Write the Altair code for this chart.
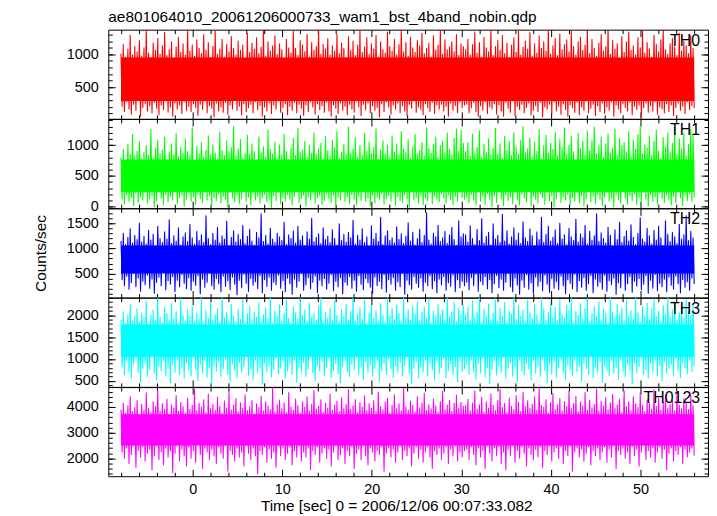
import altair as alt
import pandas as pd

FONT = "Liberation Sans"
TITLE = "ae801064010_20061206000733_wam1_bst_4band_nobin.qdp"
XTITLE = "Time [sec] 0 = 2006/12/06 00:07:33.082"
YTITLE = "Counts/sec"

T_START, T_END = -8.0, 56.0
X_DOMAIN = [-9.42, 57.54]
X_MAJOR = [0, 10, 20, 30, 40, 50]
X_MINOR = [-8, -6, -4, -2, 2, 4, 6, 8, 12, 14, 16, 18, 22, 24, 26, 28,
           32, 34, 36, 38, 42, 44, 46, 48, 52, 54, 56]

names = ["TH0", "TH1", "TH2", "TH3", "TH0123"]
colors = ["#ff0000", "#00ff00", "#0000ff", "#00ffff", "#ff00ff"]
y_domains = [[20, 1375], [-23, 1422], [24, 1798], [363, 2402], [1302, 4775]]
y_major = [[500, 1000], [0, 500, 1000], [500, 1000, 1500],
           [500, 1000, 1500, 2000], [2000, 3000, 4000]]
y_minor = [list(range(100, 1400, 100)), list(range(0, 1500, 100)),
           list(range(100, 1800, 100)), list(range(400, 2500, 100)),
           list(range(1400, 4800, 200))]

# solidly filled core of each light curve (counts/sec)
core_lo = [290, 240, 500, 1050, 2500]
core_hi = [950, 760, 1060, 1790, 3720]

th0 = [
    1010, 210, 1150, 130, 960, 280, 1080, 170, 1290, 90, 990, 240, 1120, 150, 1040, 300, 1210, 60, 970, 190,
    1100, 250, 1380, 140, 1020, 220, 950, 110, 1170, 270, 1060, 180, 1240, 80, 1000, 230, 1130, 160, 1330, 290,
    980, 120, 1070, 200, 1190, 60, 940, 260, 1110, 170, 1260, 230, 1030, 100, 1160, 280, 990, 150, 1400, 210,
    1050, 130, 1140, 250, 970, 190, 1220, 70, 1090, 240, 1010, 160, 1300, 290, 1060, 110, 1180, 220, 950, 180,
    1120, 50, 1360, 260, 1000, 140, 1080, 200, 1230, 120, 960, 270, 1150, 90, 1040, 230, 1270, 170, 1090, 300,
    990, 150, 1200, 210, 1060, 80, 1140, 250, 930, 130, 1320, 190, 1030, 240, 1170, 110, 1080, 280, 1250, 160,
    1010, 220, 1110, 60, 1390, 200, 970, 140, 1190, 260, 1050, 100, 1130, 230, 1280, 170, 1000, 290, 1160, 120,
    1070, 190, 940, 250, 1230, 80, 1100, 210, 1020, 150, 1350, 270, 1090, 110, 980, 240, 1210, 180, 1140, 70,
    1040, 230, 1300, 130, 960, 280, 1180, 200, 1060, 90, 1120, 250, 1410, 160, 1000, 220, 1150, 120, 1080, 270,
    1240, 140, 990, 60, 1130, 230, 1050, 180, 1310, 100, 1010, 260, 1170, 150, 1090, 210, 950, 80, 1270, 240,
    1060, 170, 1200, 120, 980, 290, 1140, 200, 1370, 70, 1030, 240, 1110, 160, 1250, 260, 1000, 110, 1160, 220,
    1080, 150, 1290, 190, 960, 50, 1190, 250, 1070, 130, 1020, 280, 1340, 200, 1120, 90, 1050, 230, 1230, 170,
    990, 260, 1150, 110, 1400, 220, 1040, 140, 1180, 70, 970, 240, 1260, 180, 1100, 290, 1030, 120, 1210, 200,
    1130, 160, 1320, 80, 1010, 250, 1090, 190, 1170, 130, 960, 270, 1280, 100, 1060, 230, 1140, 170, 1380, 240,
    1000, 140, 1220, 210, 1070, 60, 1110, 260, 1190, 150, 1040, 220, 1300, 110, 980, 280, 1160, 190, 1120, 230,
    1070, 240, 1230, 110, 990, 190, 1150, 270, 1340, 130, 1020, 60, 1180, 220, 960, 150, 1260, 280, 1100, 100,
    1040, 200, 1390, 170, 980, 250, 1120, 90, 1210, 230, 1060, 140, 1290, 60, 1010, 270, 1170, 180, 950, 120,
    1140, 290, 1250, 70, 1030, 210, 1360, 160, 990, 240, 1110, 110, 1200, 190, 1080, 260, 1330, 80, 970, 150,
    1160, 220, 1020, 130, 1280, 270, 1090, 50, 1190, 200, 1050, 170, 1400, 240, 1000, 100, 1130, 280, 1240, 140,
    980, 210, 1310, 90, 1070, 250, 1150, 160, 1220, 60, 1040, 230, 1360, 190, 1120, 120, 990, 270, 1190, 80,
    1260, 200, 1060, 150, 1140, 290, 1380, 110, 1010, 180, 1230, 240, 1090, 70, 970, 220, 1170, 130, 1300, 260,
    1050, 100, 1120, 200, 1410, 150, 1000, 280, 1210, 60, 1080, 230, 1160, 170, 940, 110, 1270, 250, 1030, 190,
    1190, 140, 1340, 270, 1060, 80, 1130, 210, 990, 160, 1250, 230, 1100, 50, 1370, 190, 1020, 260, 1180, 120,
    1080, 220, 960, 140, 1290, 280, 1150, 90, 1040, 200, 1220, 170, 1390, 110, 1070, 250, 1000, 130, 1160, 230,
    1240, 70, 1110, 190, 980, 260, 1320, 150, 1050, 210, 1200, 100, 1130, 280, 1010, 160, 1280, 220, 1090, 180,
]
th1 = [
    800, 120, 930, 40, 760, 190, 1010, 90, 850, 150, 1170, 20, 820, 210, 900, 70, 1060, 160, 780, 110,
    880, 230, 990, 60, 830, 130, 1250, 180, 790, 0, 950, 100, 1080, 240, 860, 140, 920, 30, 1130, 200,
    770, 80, 890, 170, 1020, 110, 840, 250, 1190, 50, 810, 150, 960, 190, 870, 10, 1100, 120, 900, 220,
    830, 90, 1280, 160, 750, 40, 980, 200, 860, 130, 1040, 70, 800, 240, 920, 110, 1150, 180, 840, 20,
    1000, 150, 870, 100, 780, 210, 1210, 60, 910, 170, 830, 120, 1070, 0, 890, 230, 960, 140, 1300, 80,
    820, 190, 940, 50, 1090, 130, 790, 250, 870, 90, 1160, 160, 850, 30, 1020, 210, 900, 110, 760, 170,
    1130, 60, 880, 140, 970, 200, 810, 80, 1240, 120, 930, -10, 860, 180, 1050, 100, 790, 230, 1000, 50,
    840, 150, 1180, 90, 900, 200, 770, 120, 950, 30, 1110, 170, 830, 240, 1270, 70, 880, 130, 920, 190,
    1060, 10, 800, 160, 990, 110, 870, 220, 1200, 60, 850, 140, 940, 180, 1030, 40, 780, 100, 1140, 210,
    910, 130, 820, 70, 1080, 190, 960, 20, 1230, 150, 790, 110, 890, 240, 1010, 90, 850, 160, 1290, 50,
    870, 200, 940, 120, 1120, 30, 800, 170, 990, 100, 830, 250, 1190, 80, 900, 140, 1050, 10, 860, 190,
    960, 60, 1260, 150, 780, 120, 920, 210, 1070, 40, 850, 130, 1000, 180, 810, 90, 1150, 230, 890, 20,
    1020, 160, 840, 100, 1220, 70, 930, 200, 880, 130, 1090, 0, 790, 240, 970, 110, 1170, 150, 860, 60,
    910, 190, 1040, 30, 820, 140, 1280, 100, 950, 220, 870, 50, 1010, 170, 1130, 120, 800, 80, 990, 210,
    1060, 140, 880, 60, 1200, 190, 930, 110, 840, 30, 1110, 170, 1260, 90, 900, 230, 1240, 150, 1030, 120,
    900, 150, 1040, 60, 820, 200, 1180, 110, 870, 30, 960, 230, 1230, 90, 800, 170, 1010, 40, 880, 210,
    1100, 120, 840, 0, 950, 180, 1270, 70, 860, 240, 1020, 130, 790, 20, 1140, 190, 920, 100, 1060, 160,
    830, 50, 1200, 220, 970, 110, 850, 30, 1080, 200, 1300, 140, 880, 80, 940, 250, 1120, 10, 810, 170,
    1050, 120, 900, 60, 1250, 210, 780, 150, 990, 40, 1160, 230, 870, 100, 1030, 180, 930, 0, 1210, 130,
    820, 240, 1090, 70, 960, 160, 1280, 110, 850, 200, 1000, 30, 1140, 150, 890, 90, 770, 220, 1190, 60,
    940, 180, 1060, 10, 830, 130, 1230, 240, 910, 80, 1070, 170, 1290, 50, 860, 200, 980, 120, 1130, 20,
    800, 160, 1020, 230, 1180, 90, 870, 140, 950, 0, 1260, 190, 840, 110, 1110, 60, 990, 250, 1040, 140,
    890, 40, 1220, 180, 810, 100, 1080, 210, 930, 30, 1170, 150, 1300, 70, 860, 230, 1000, 120, 950, 10,
    1150, 200, 830, 90, 1060, 160, 1240, 40, 900, 220, 790, 130, 1120, 70, 970, 190, 1200, 110, 880, 30,
    1030, 170, 1280, 60, 850, 240, 1100, 140, 940, 20, 1190, 180, 820, 100, 1010, 210, 1250, 90, 1170, 150,
]
th2 = [
    1150, 380, 1300, 260, 1080, 450, 1220, 190, 1390, 320, 1110, 500, 1260, 240, 1180, 410, 1500, 150, 1130, 350,
    1240, 280, 1090, 470, 1360, 210, 1170, 390, 1280, 110, 1050, 330, 1440, 430, 1200, 260, 1120, 520, 1330, 180,
    1190, 360, 1570, 290, 1100, 440, 1250, 140, 1150, 370, 1410, 240, 1070, 480, 1230, 310, 1310, 200, 1140, 420,
    1480, 170, 1210, 350, 1090, 270, 1340, 460, 1160, 100, 1270, 390, 1120, 230, 1650, 330, 1200, 510, 1080, 260,
    1300, 190, 1170, 400, 1420, 300, 1110, 140, 1250, 450, 1190, 250, 1540, 360, 1060, 180, 1220, 430, 1350, 290,
    1130, 80, 1280, 370, 1180, 220, 1460, 490, 1100, 310, 1240, 150, 1380, 400, 1150, 270, 1070, 340, 1320, 200,
    1210, 460, 1690, 120, 1140, 380, 1260, 250, 1090, 430, 1400, 170, 1190, 330, 1120, 280, 1300, 470, 1230, 210,
    1160, 360, 1520, 140, 1080, 410, 1270, 300, 1200, 90, 1350, 390, 1110, 230, 1440, 350, 1170, 500, 1250, 170,
    1060, 280, 1330, 420, 1190, 200, 1600, 330, 1140, 450, 1220, 120, 1290, 370, 1100, 260, 1410, 400, 1180, 190,
    1240, 310, 1120, 480, 1370, 160, 1200, 350, 1070, 240, 1490, 420, 1160, 100, 1280, 330, 1130, 270, 1320, 440,
    1210, 210, 1560, 370, 1090, 150, 1260, 460, 1170, 290, 1390, 180, 1120, 400, 1230, 320, 1050, 230, 1450, 110,
    1190, 430, 1300, 260, 1140, 350, 1620, 200, 1080, 480, 1250, 130, 1350, 380, 1160, 290, 1210, 420, 1110, 170,
    1430, 340, 1180, 240, 1290, 500, 1100, 90, 1240, 370, 1510, 280, 1150, 190, 1320, 440, 1070, 310, 1200, 230,
    1380, 410, 1120, 150, 1260, 330, 1710, 260, 1170, 460, 1090, 200, 1300, 360, 1230, 120, 1460, 390, 1140, 280,
    1210, 440, 1340, 170, 1100, 320, 1270, 250, 1420, 470, 1180, 140, 1060, 380, 1550, 220, 1230, 350, 1290, 260,
    1270, 330, 1130, 180, 1450, 420, 1200, 260, 1080, 490, 1380, 150, 1160, 350, 1590, 280, 1110, 440, 1240, 200,
    1320, 380, 1070, 120, 1490, 300, 1190, 460, 1260, 220, 1120, 390, 1680, 170, 1150, 330, 1350, 500, 1090, 240,
    1230, 140, 1410, 410, 1170, 270, 1300, 90, 1100, 370, 1530, 230, 1210, 480, 1140, 190, 1390, 320, 1250, 110,
    1060, 430, 1330, 250, 1180, 350, 1620, 160, 1120, 470, 1280, 290, 1440, 130, 1150, 400, 1220, 210, 1370, 340,
    1100, 180, 1500, 450, 1190, 260, 1270, 100, 1080, 380, 1400, 310, 1230, 200, 1160, 490, 1580, 140, 1130, 360,
    1290, 230, 1210, 420, 1460, 170, 1090, 300, 1340, 460, 1170, 120, 1250, 390, 1690, 250, 1140, 330, 1310, 190,
    1200, 470, 1110, 150, 1420, 360, 1260, 280, 1050, 410, 1370, 90, 1180, 320, 1520, 220, 1120, 500, 1240, 170,
    1350, 300, 1150, 440, 1470, 130, 1220, 350, 1080, 250, 1300, 400, 1610, 180, 1190, 290, 1130, 460, 1400, 110,
    1250, 370, 1090, 210, 1360, 480, 1170, 160, 1440, 310, 1210, 240, 1060, 390, 1550, 140, 1280, 430, 1140, 270,
    1320, 190, 1230, 450, 1100, 300, 1480, 120, 1190, 380, 1270, 230, 1650, 340, 1160, 170, 1340, 410, 1210, 290,
]
th3 = [
    1900, 820, 2080, 640, 1820, 950, 2010, 720, 2240, 560, 1870, 880, 1980, 1000, 2150, 690, 1840, 470, 2060, 790,
    1950, 910, 2330, 600, 1790, 760, 2000, 1050, 2120, 680, 1890, 520, 2450, 840, 1960, 730, 1830, 960, 2190, 610,
    2040, 780, 1880, 450, 2270, 870, 1930, 700, 2090, 990, 1810, 640, 2380, 810, 1990, 560, 1860, 920, 2130, 740,
    1970, 620, 2220, 1030, 1850, 760, 2050, 510, 1920, 880, 2410, 690, 1800, 970, 2110, 590, 1940, 800, 2300, 430,
    1890, 850, 2020, 720, 2160, 940, 1830, 600, 2460, 780, 1950, 1010, 2070, 660, 1870, 480, 2250, 890, 1990, 740,
    1840, 570, 2140, 920, 1910, 700, 2360, 820, 1780, 1060, 2030, 630, 2200, 760, 1900, 540, 2080, 980, 1960, 680,
    2290, 800, 1860, 420, 2010, 910, 2170, 710, 1930, 850, 2420, 590, 1820, 760, 2100, 1020, 1980, 650, 2240, 790,
    1870, 940, 2050, 560, 2350, 730, 1940, 880, 1810, 640, 2190, 990, 2060, 470, 1920, 810, 2440, 700, 1990, 920,
    2120, 600, 1850, 770, 2280, 1040, 1960, 690, 2040, 500, 1890, 860, 2210, 730, 2400, 950, 1830, 620, 2070, 810,
    1950, 1000, 2160, 580, 1880, 740, 2320, 900, 2000, 660, 1840, 450, 2130, 830, 1970, 970, 2260, 710, 1900, 600,
    2090, 880, 2430, 760, 1860, 1030, 2020, 640, 2180, 820, 1920, 540, 2340, 930, 1800, 700, 2060, 860, 2220, 610,
    1940, 790, 2110, 960, 1870, 490, 2270, 730, 2000, 890, 1830, 650, 2390, 1010, 1980, 770, 2150, 580, 1910, 840,
    2240, 700, 2050, 920, 1850, 610, 2460, 850, 1960, 1050, 2130, 680, 1890, 430, 2200, 790, 2030, 940, 2310, 570,
    1880, 820, 2070, 710, 2190, 990, 1940, 620, 2370, 880, 1820, 750, 2100, 520, 1990, 930, 2250, 670, 2010, 800,
    2140, 1020, 1900, 560, 2420, 740, 1960, 900, 2080, 640, 2300, 830, 1850, 480, 2170, 960, 2020, 720, 2230, 780,
    2010, 870, 2190, 650, 1880, 980, 2330, 720, 1950, 530, 2080, 900, 2420, 680, 1840, 1010, 2140, 590, 1990, 810,
    2260, 440, 1900, 760, 2050, 950, 2380, 630, 1860, 850, 2170, 700, 1970, 1040, 2300, 560, 1820, 790, 2100, 920,
    2030, 610, 2450, 830, 1910, 480, 2210, 990, 1980, 720, 2120, 640, 1850, 900, 2350, 770, 2060, 520, 1930, 960,
    2240, 680, 2010, 850, 1800, 600, 2400, 1020, 2150, 740, 1890, 450, 2070, 880, 2290, 660, 1960, 930, 2180, 570,
    1870, 800, 2360, 1000, 2020, 690, 1940, 540, 2230, 870, 2110, 760, 2440, 620, 1830, 980, 2090, 710, 2000, 840,
    2270, 500, 1920, 910, 2160, 780, 2390, 650, 1860, 1050, 2040, 580, 2200, 820, 1980, 700, 2320, 940, 1900, 470,
    2130, 860, 2050, 730, 1810, 620, 2460, 960, 2080, 680, 1950, 810, 2250, 540, 2020, 1000, 2170, 720, 1880, 600,
    2340, 880, 1990, 750, 2110, 430, 1930, 920, 2410, 690, 2060, 830, 1840, 1030, 2200, 640, 2000, 760, 2280, 560,
    1910, 900, 2150, 700, 2370, 980, 1970, 610, 2090, 850, 1850, 510, 2230, 940, 2030, 680, 2430, 790, 1960, 880,
    2120, 620, 2310, 1010, 1890, 740, 2060, 570, 2190, 910, 1940, 800, 2350, 660, 2080, 970, 2000, 720, 2260, 840,
]
th0123 = [
    3900, 2250, 4150, 2000, 3750, 2400, 4050, 1800, 4400, 2150, 3820, 2500, 3980, 1650, 4250, 2300, 3700, 2050, 4100, 2450,
    3880, 1900, 4550, 2200, 3950, 2350, 3780, 1550, 4200, 2100, 4020, 2480, 4650, 1950, 3850, 2250, 4120, 1750, 3920, 2400,
    4300, 2050, 3720, 2300, 4080, 1450, 3960, 2200, 4450, 2500, 3830, 1900, 4180, 2350, 4020, 2100, 3760, 1700, 4350, 2450,
    3910, 2000, 4060, 2300, 4700, 1850, 3850, 2550, 4140, 2150, 3990, 1600, 4280, 2400, 3780, 2250, 4500, 1950, 3940, 2350,
    4100, 2100, 3870, 1800, 4380, 2450, 4020, 2200, 3740, 2000, 4230, 2500, 3960, 1500, 4600, 2300, 3890, 2150, 4070, 1900,
    4330, 2400, 3800, 2050, 4160, 2250, 3950, 1700, 4480, 2500, 3860, 2200, 4010, 1950, 4250, 2400, 3730, 2100, 4120, 1400,
    3980, 2300, 4420, 2150, 3840, 2450, 4190, 1850, 4040, 2350, 3900, 2000, 4750, 2250, 3810, 1650, 4090, 2500, 4270, 2100,
    3930, 2400, 4150, 1950, 3770, 2200, 4560, 2450, 4000, 1750, 3880, 2300, 4310, 2050, 4060, 2500, 3750, 1900, 4200, 2250,
    3990, 2050, 4400, 2400, 3850, 1550, 4110, 2300, 4640, 2150, 3920, 2450, 4030, 1850, 4280, 2200, 3790, 2400, 4150, 2000,
    3960, 2350, 4500, 1700, 3870, 2250, 4080, 2500, 4220, 1950, 3820, 2150, 4360, 2400, 3940, 1800, 4100, 2300, 4680, 2100,
    3910, 2450, 4050, 1600, 4290, 2200, 3780, 2350, 4170, 1950, 4000, 2500, 4440, 2100, 3860, 1750, 4130, 2400, 3950, 2250,
    4250, 1900, 3830, 2300, 4580, 2150, 4020, 2450, 3900, 1500, 4190, 2200, 4340, 2400, 3760, 2050, 4070, 2350, 4480, 1850,
    3940, 2250, 4120, 2500, 3850, 1950, 4720, 2300, 4010, 2100, 3880, 2400, 4230, 1700, 4060, 2200, 3800, 2450, 4400, 2000,
    3970, 2350, 4150, 1850, 4540, 2250, 3860, 2450, 4090, 2050, 3930, 1600, 4310, 2300, 4040, 2150, 3790, 2400, 4200, 1950,
    4610, 2200, 3900, 2450, 4080, 1800, 4260, 2350, 3830, 2100, 4140, 2500, 4460, 1900, 3950, 2250, 4180, 2050, 4030, 2300,
    4050, 2350, 4300, 1950, 3850, 2450, 4150, 2150, 4620, 1750, 3920, 2400, 4090, 2050, 4380, 2300, 3800, 1600, 4200, 2500,
    3960, 2200, 4510, 1900, 4070, 2400, 3860, 2100, 4260, 2450, 4680, 1800, 3990, 2250, 4140, 1550, 3780, 2350, 4350, 2100,
    4030, 2500, 3900, 1850, 4450, 2300, 4180, 2000, 3830, 2450, 4580, 2200, 4010, 1700, 4240, 2400, 3940, 2150, 4110, 1950,
    4400, 2350, 3870, 2050, 4750, 2450, 4060, 1650, 3990, 2300, 4290, 2150, 3760, 2500, 4170, 1900, 4530, 2250, 3910, 2400,
    4080, 2000, 4330, 2450, 3850, 1800, 4210, 2300, 4020, 2100, 4640, 2500, 3930, 1500, 4130, 2250, 4420, 2400, 3810, 2050,
    4190, 2350, 4050, 1900, 4560, 2200, 3880, 2450, 4270, 1750, 3970, 2300, 4100, 2100, 4700, 2400, 3840, 1950, 4230, 2250,
    4040, 2450, 4370, 1850, 3900, 2350, 4160, 2050, 4490, 2500, 3950, 1600, 4080, 2300, 4310, 2150, 3770, 2400, 4620, 2000,
    4010, 2250, 4200, 1800, 3860, 2450, 4400, 2100, 4120, 2350, 3980, 1700, 4550, 2250, 4060, 2500, 3820, 1950, 4280, 2300,
    4150, 2050, 3920, 2400, 4670, 1850, 4030, 2250, 4340, 2450, 3880, 2000, 4180, 2350, 4470, 1550, 3960, 2200, 4100, 2400,
    4250, 1900, 3850, 2300, 4590, 2150, 4070, 2450, 3940, 1800, 4320, 2350, 4140, 2050, 3900, 2250, 4500, 2400, 4060, 2100,
]
series = {"TH0": th0, "TH1": th1, "TH2": th2, "TH3": th3, "TH0123": th0123}

W = 604
H = 89.74


def tick_axis(orient, vals, size, offset):
    return alt.Axis(orient=orient, offset=offset, values=vals, tickSize=size,
                    labels=False, domain=False, grid=False, title=None,
                    tickColor="black", tickWidth=1, ticks=True)


def panel(i):
    name = names[i]
    vals = series[name]
    n = len(vals)
    t = [T_START + (T_END - T_START) * k / (n - 1) for k in range(n)]
    df = pd.DataFrame({"t": t, "v": vals})
    bdf = pd.DataFrame({"t": [T_START, T_END], "lo": [core_lo[i]] * 2, "hi": [core_hi[i]] * 2})
    xs = alt.Scale(domain=X_DOMAIN, nice=False, zero=False)
    ys = alt.Scale(domain=y_domains[i], nice=False, zero=False)
    c = colors[i]

    if i == 4:
        xax = alt.Axis(orient="bottom", values=X_MAJOR, ticks=False, domain=False, grid=False,
                       labelPadding=6, labelFont=FONT, labelFontSize=14.5, labelColor="black",
                       format="d",
                       title=XTITLE, titleFont=FONT, titleFontSize=15.5, titleFontWeight="normal",
                       titleColor="black", titleX=290, titleY=35, titleBaseline="alphabetic")
    else:
        xax = None
    if i == 2:
        yax = alt.Axis(orient="left", values=y_major[i], ticks=False, domain=False, grid=False,
                       labelPadding=10, labelFont=FONT, labelFontSize=14.5, labelColor="black",
                       format="d",
                       title=YTITLE, titleFont=FONT, titleFontSize=15.5, titleFontWeight="normal",
                       titleColor="black", titleX=-60)
    else:
        yax = alt.Axis(orient="left", values=y_major[i], ticks=False, domain=False, grid=False,
                       labelPadding=10, labelFont=FONT, labelFontSize=14.5, labelColor="black",
                       format="d", title=None)

    band = alt.Chart(bdf).mark_area(color=c, opacity=1, clip=True).encode(
        x=alt.X("t:Q", scale=xs, axis=xax),
        y=alt.Y("lo:Q", scale=ys, axis=yax),
        y2="hi:Q",
    )
    line = alt.Chart(df).mark_line(color=c, strokeWidth=1.1, strokeJoin="round",
                                   clip=True).encode(
        x=alt.X("t:Q", scale=xs, axis=None),
        y=alt.Y("v:Q", scale=ys, axis=None),
    )

    def ticks(xo, xv, xsz, yo, yv, ysz):
        return alt.Chart(bdf).mark_point(opacity=0, size=1).encode(
            x=alt.X("t:Q", scale=xs, axis=tick_axis(xo, xv, xsz, -H)),
            y=alt.Y("lo:Q", scale=ys, axis=tick_axis(yo, yv, ysz, -W)),
        )

    ta = ticks("top", X_MAJOR, 7, "right", y_major[i], 7)
    tb = ticks("top", X_MINOR, 4, "right", y_minor[i], 4)
    tc = ticks("bottom", X_MAJOR, 7, "left", y_major[i], 7)
    td = ticks("bottom", X_MINOR, 4, "left", y_minor[i], 4)

    label = alt.Chart(pd.DataFrame({"label": [name]})).mark_text(
        align="right", baseline="alphabetic", font=FONT, fontSize=16, color="black"
    ).encode(x=alt.value(W - 8), y=alt.value(16), text="label:N")

    layer = alt.layer(band, line, ta, tb, tc, td, label).resolve_axis(
        x="independent", y="independent"
    ).properties(width=W, height=H)
    if i == 0:
        layer = layer.properties(title=alt.TitleParams(
            text=TITLE, anchor="start", frame="group", font=FONT, fontSize=15.5,
            fontWeight="normal", color="black", offset=3.5))
    return layer


chart = alt.vconcat(*[panel(i) for i in range(5)], spacing=0, bounds="flush").properties(
    padding={"left": 25, "top": 0, "right": 0, "bottom": 0},
    background="white",
).configure_view(stroke="black", strokeWidth=1)

chart.save("out.html", embed_options={"renderer": "svg", "actions": False})
